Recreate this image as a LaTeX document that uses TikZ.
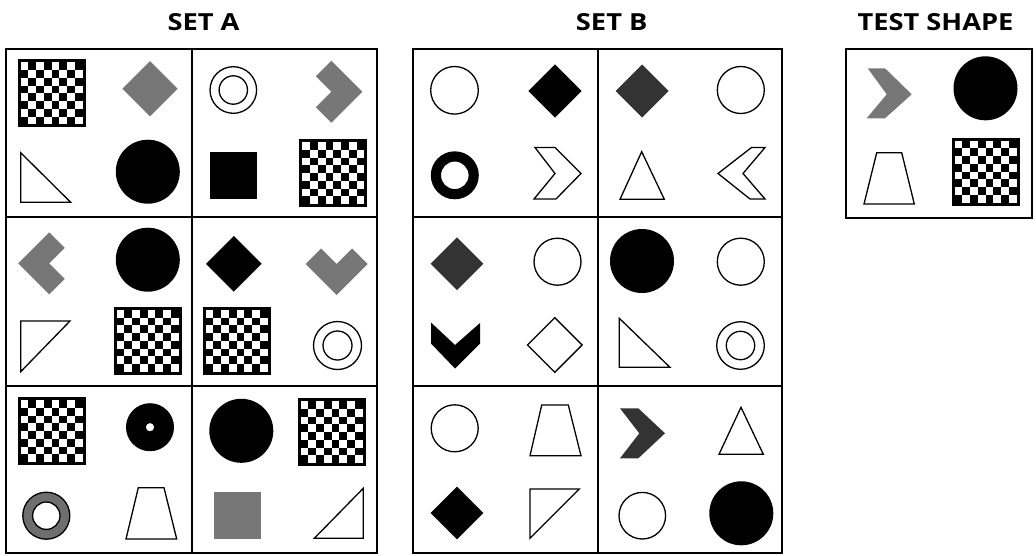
\documentclass[tikz,border=0pt]{standalone}
\usepackage{fontspec}
\setmainfont{Open Sans}
\newfontfamily\titlefont[FakeStretch=1.16]{Open Sans Bold}
\definecolor{midgrey}{HTML}{777777}
\definecolor{ringgrey}{HTML}{6E6E6E}
\definecolor{darkgrey}{HTML}{333333}
\newcommand\mydia[4]{\path[#1] (#2,#3) ++(0,-#4) -- ++(#4,#4) -- ++(-#4,#4) -- ++(-#4,-#4) -- cycle;}
\tikzset{
  checker/.pic={
    \fill[black] (-34,-34) rectangle (34,34);
    \foreach \i in {0,...,7}{\foreach \j in {0,2,4,6}{
      \pgfmathsetmacro\cx{-31+7.75*(\j+mod(\i,2))}
      \pgfmathsetmacro\cy{-31+7.75*\i}
      \fill[white] (\cx,\cy) rectangle ++(7.75,7.75);
    }}
  },
  lchev/.pic={
    \fill[midgrey] (0,0) -- (-31,-31) -- (-46.5,-15.5) -- (-31,0) -- (-46.5,15.5) -- (-31,31) -- cycle;
  },
}
\begin{document}
\begin{tikzpicture}[x=1pt,y=-1pt,
  frame/.style={draw=black,line width=2.3pt},
  ol/.style={draw=black,line width=1.3pt,fill=white},
  ln/.style={draw=black,line width=1.3pt},
  title/.style={font=\titlefont\fontsize{23.5}{28}\selectfont,anchor=base,inner sep=0pt},
]
\useasboundingbox (0,0) rectangle (1036,555);
\fill[white] (0,0) rectangle (1036,555);

% titles
\node[title] (ta) at (203.5,30) {SET A};
\node[title] (tb) at (611.7,30) {SET B};
\node[title] (tt) at (935.5,30) {TEST SHAPE};

% frames
\draw[frame] (6,49) rectangle (377,553);
\draw[frame] (192,49) -- (192,553);
\draw[frame] (6,217) -- (377,217);
\draw[frame] (6,386) -- (377,386);
\draw[frame] (413,49) rectangle (782,553);
\draw[frame] (598,49) -- (598,553);
\draw[frame] (413,217) -- (782,217);
\draw[frame] (413,386) -- (782,386);
\draw[frame] (846,49) rectangle (1032,218);

% ===== SET A =====
% A11
\pic at (51.5,93.3) {checker};
\mydia{fill=midgrey}{150}{88.7}{27.7}
\draw[ol] (20.7,152.7) -- (20.7,202.3) -- (70.7,202.3) -- cycle;
\fill (147.8,171.7) circle[radius=32pt];
% A12
\draw[ln] (233.3,90) circle[radius=23.3pt] (233.3,90) circle[radius=14.2pt];
\pic at (362.3,91.7) {lchev};
\fill (210,152.3) rectangle (257.3,199);
\pic at (333.3,173.2) {checker};
% A21
\pic[rotate=180] at (18.3,263.3) {lchev};
\fill (147.8,259.7) circle[radius=32pt];
\draw[ol] (20.7,321) -- (70,321) -- (20.7,371.7) -- cycle;
\pic at (147.5,340.8) {checker};
% A22
\mydia{fill=black}{233.8}{263.8}{27.8}
\pic[rotate=-90] at (336.7,295) {lchev};
\pic at (236.5,340.8) {checker};
\draw[ln] (337.5,345.5) circle[radius=24pt] (337.5,345.5) circle[radius=14.5pt];
% A31
\pic at (51.5,431.2) {checker};
\fill[even odd rule] (150,427.2) circle[radius=24pt] (150,427.2) circle[radius=4.2pt];
\draw[ln,fill=ringgrey,even odd rule] (46.3,515.7) circle[radius=23.5pt] (46.3,515.7) circle[radius=13.7pt];
\draw[ol] (138.3,487.7) -- (164,487.7) -- (176.7,539) -- (126,539) -- cycle;
% A32
\fill (241.3,430.8) circle[radius=32pt];
\pic at (331.7,432.2) {checker};
\fill[midgrey] (214,492.3) rectangle (261,539.3);
\draw[ol] (363.3,488.3) -- (363.3,538.3) -- (314.3,538.3) -- cycle;

% ===== SET B =====
% B11
\draw[ol] (454.5,90.3) circle[radius=23.8pt];
\mydia{fill=black}{555}{91}{26.7}
\fill[even odd rule] (454.8,175.3) circle[radius=24pt] (454.8,175.3) circle[radius=13.8pt];
\draw[ol] (535,147.5) -- (555,147.5) -- (581,173.5) -- (556,199) -- (534,199) -- (555,173.5) -- cycle;
% B12
\mydia{fill=darkgrey}{642.2}{91}{26.5}
\draw[ol] (740.8,90) circle[radius=23.5pt];
\draw[ol] (641.7,151.7) -- (664.3,199.3) -- (620,199.3) -- cycle;
\draw[ol] (765,147.5) -- (751.5,147.5) -- (718,173.5) -- (750,199) -- (765,199) -- (743,173.5) -- cycle;
% B21
\mydia{fill=darkgrey}{457}{263.7}{26.3}
\draw[ol] (557.5,261.7) circle[radius=23.5pt];
\fill (431,322.5) -- (455,345) -- (480,323) -- (480,343.5) -- (455,368.5) -- (431,343.5) -- cycle;
\mydia{ol}{554.8}{345}{27.3}
% B22
\fill (642,261) circle[radius=32pt];
\draw[ol] (740.8,261.7) circle[radius=23.5pt];
\draw[ol] (619.3,318.3) -- (619.3,367.3) -- (670,367.3) -- cycle;
\draw[ln] (740.5,345.5) circle[radius=23.8pt] (740.5,345.5) circle[radius=14.2pt];
% B31
\draw[ol] (454.7,428.3) circle[radius=23.5pt];
\draw[ol] (541.7,405) -- (568.3,405) -- (581,455.7) -- (530,455.7) -- cycle;
\mydia{fill=black}{457}{513}{26.3}
\draw[ol] (530,489) -- (579.3,489) -- (530,538.3) -- cycle;
% B32
\fill[darkgrey] (620,408.3) -- (638.3,408.3) -- (665,433.3) -- (638.3,458.3) -- (620,458.3) -- (639.3,433.3) -- cycle;
\draw[ol] (741,407.3) -- (763.3,454.3) -- (719,454.3) -- cycle;
\draw[ol] (642.3,515.7) circle[radius=23.3pt];
\fill (741.3,513.3) circle[radius=32pt];

% ===== TEST SHAPE =====
\fill[midgrey] (867.7,68.3) -- (885,68.3) -- (911.7,94.3) -- (885,118.3) -- (866.7,118.3) -- (886.7,94.3) -- cycle;
\fill (985.5,88.3) circle[radius=32pt];
\draw[ol] (876.7,152.7) -- (901.7,152.7) -- (914.3,204) -- (864,204) -- cycle;
\pic at (985.5,171.7) {checker};
\end{tikzpicture}
\end{document}
